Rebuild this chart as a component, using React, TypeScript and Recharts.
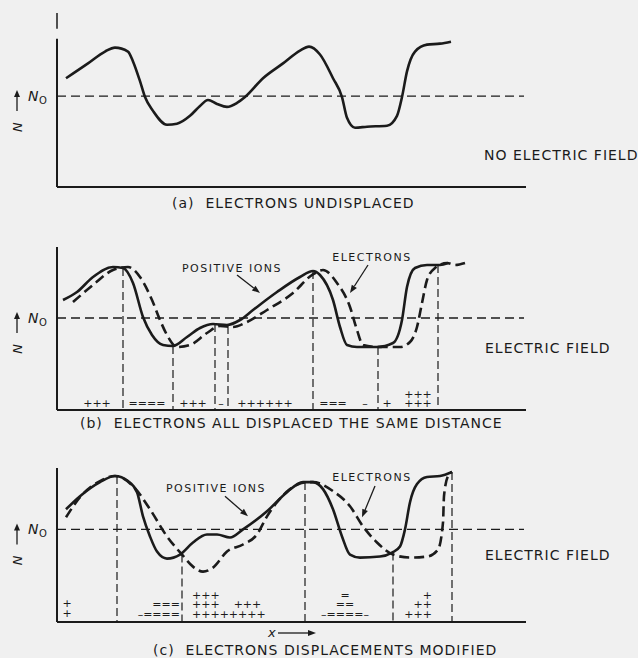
import React from "react";
import { LineChart, Line, XAxis, YAxis, ReferenceLine, ReferenceDot } from "recharts";

const INK = "#1b1b1b";
const BG = "#f0f0f0";
const N0 = 92;
const X_MAX = 469;

type Pt = { x: number; n: number };
type Drop = { x: number; top: number };
// n is the centre of the lowest row; rows run top to bottom
type Charge = { x: number; n: number; rows: string[]; anchor?: "start" | "middle" | "end" };
type Note = { x: number; n: number; t: string; from: [number, number]; to: [number, number] };

// (a) electrons undisplaced
const ionsA: Pt[] = [
  { x: 9, n: 110 }, { x: 31, n: 125 }, { x: 48, n: 137 }, { x: 58, n: 141 }, { x: 71, n: 137 },
  { x: 76, n: 127 }, { x: 83, n: 107 }, { x: 88, n: 91 }, { x: 96, n: 77 }, { x: 110, n: 63 },
  { x: 120, n: 64 }, { x: 133, n: 72 }, { x: 143, n: 82 }, { x: 151, n: 88 }, { x: 160, n: 84 },
  { x: 170, n: 81 }, { x: 180, n: 85 }, { x: 188, n: 91 }, { x: 206, n: 110 }, { x: 226, n: 125 },
  { x: 243, n: 138 }, { x: 252, n: 142 }, { x: 263, n: 134 }, { x: 276, n: 110 }, { x: 285, n: 91 },
  { x: 290, n: 70 }, { x: 298, n: 60 }, { x: 310, n: 61 }, { x: 330, n: 62 }, { x: 340, n: 72 },
  { x: 345, n: 91 }, { x: 350, n: 117 }, { x: 358, n: 137 }, { x: 370, n: 144 }, { x: 383, n: 145 },
  { x: 394, n: 147 },
];

// (b) all displaced the same distance
const ionsB: Pt[] = [
  { x: 6, n: 110 }, { x: 20, n: 118 }, { x: 36, n: 133 }, { x: 56, n: 143 }, { x: 66, n: 142 },
  { x: 76, n: 127 }, { x: 86, n: 93 }, { x: 95, n: 75 }, { x: 106, n: 65 }, { x: 116, n: 64 },
  { x: 130, n: 73 }, { x: 143, n: 82 }, { x: 156, n: 86 }, { x: 170, n: 85 }, { x: 183, n: 90 },
  { x: 196, n: 100 }, { x: 220, n: 118 }, { x: 243, n: 133 }, { x: 256, n: 139 }, { x: 263, n: 135 },
  { x: 276, n: 110 }, { x: 283, n: 83 }, { x: 290, n: 65 }, { x: 300, n: 63 }, { x: 320, n: 63 },
  { x: 336, n: 67 }, { x: 345, n: 90 }, { x: 350, n: 123 }, { x: 358, n: 142 }, { x: 370, n: 145 },
  { x: 383, n: 145 }, { x: 391, n: 147 },
];
const electronsB: Pt[] = [
  { x: 16, n: 108 }, { x: 36, n: 125 }, { x: 56, n: 140 }, { x: 71, n: 143 }, { x: 83, n: 133 },
  { x: 95, n: 110 }, { x: 103, n: 90 }, { x: 110, n: 75 }, { x: 120, n: 63 }, { x: 133, n: 65 },
  { x: 150, n: 77 }, { x: 163, n: 84 }, { x: 176, n: 83 }, { x: 190, n: 88 }, { x: 210, n: 100 },
  { x: 236, n: 117 }, { x: 255, n: 135 }, { x: 266, n: 140 }, { x: 280, n: 127 }, { x: 293, n: 103 },
  { x: 300, n: 80 }, { x: 306, n: 65 }, { x: 320, n: 63 }, { x: 343, n: 63 }, { x: 353, n: 68 },
  { x: 360, n: 83 }, { x: 365, n: 107 }, { x: 370, n: 130 }, { x: 378, n: 142 }, { x: 390, n: 147 },
  { x: 398, n: 145 }, { x: 408, n: 147 },
];
const dropsB: Drop[] = [
  { x: 66, top: 142 }, { x: 116, top: 64 }, { x: 158, top: 86 }, { x: 171, top: 84 },
  { x: 256, top: 139 }, { x: 321, top: 63 }, { x: 381, top: 145 },
];
const chargesB: Charge[] = [
  { x: 40, n: 7, rows: ["+++"] }, { x: 90, n: 7, rows: ["===="] }, { x: 136, n: 7, rows: ["+++"] },
  { x: 164, n: 7, rows: ["–"] }, { x: 208, n: 7, rows: ["++++++"] }, { x: 276, n: 7, rows: ["==="] },
  { x: 308, n: 7, rows: ["–"] }, { x: 330, n: 7, rows: ["+"] }, { x: 361, n: 7, rows: ["+++", "+++"] },
];
const notesB: Note[] = [
  { x: 175, n: 142, t: "POSITIVE IONS", from: [180, 135], to: [203, 117] },
  { x: 315, n: 153, t: "ELECTRONS", from: [311, 145], to: [293, 117] },
];

// (c) displacements modified
const ionsC: Pt[] = [
  { x: 9, n: 112 }, { x: 23, n: 125 }, { x: 43, n: 139 }, { x: 58, n: 145 }, { x: 71, n: 140 },
  { x: 80, n: 129 }, { x: 86, n: 105 }, { x: 93, n: 85 }, { x: 100, n: 70 }, { x: 110, n: 63 },
  { x: 123, n: 67 }, { x: 136, n: 79 }, { x: 150, n: 87 }, { x: 160, n: 87 }, { x: 173, n: 84 },
  { x: 186, n: 92 }, { x: 210, n: 110 }, { x: 230, n: 129 }, { x: 246, n: 139 }, { x: 256, n: 139 },
  { x: 266, n: 132 }, { x: 276, n: 112 }, { x: 285, n: 85 }, { x: 293, n: 67 }, { x: 303, n: 64 },
  { x: 323, n: 65 }, { x: 335, n: 69 }, { x: 343, n: 75 }, { x: 348, n: 92 }, { x: 353, n: 119 },
  { x: 360, n: 137 }, { x: 370, n: 144 }, { x: 383, n: 145 }, { x: 395, n: 149 },
];
const electronsC: Pt[] = [
  { x: 9, n: 104 }, { x: 23, n: 124 }, { x: 43, n: 140 }, { x: 58, n: 145 }, { x: 76, n: 135 },
  { x: 93, n: 112 }, { x: 110, n: 85 }, { x: 125, n: 67 }, { x: 136, n: 55 }, { x: 146, n: 50 },
  { x: 156, n: 54 }, { x: 170, n: 70 }, { x: 186, n: 77 }, { x: 200, n: 87 }, { x: 210, n: 105 },
  { x: 220, n: 119 }, { x: 233, n: 132 }, { x: 250, n: 139 }, { x: 256, n: 139 }, { x: 276, n: 130 },
  { x: 293, n: 115 }, { x: 306, n: 95 }, { x: 320, n: 79 }, { x: 336, n: 67 }, { x: 353, n: 64 },
  { x: 370, n: 65 }, { x: 381, n: 72 }, { x: 386, n: 99 }, { x: 387, n: 125 }, { x: 391, n: 145 },
  { x: 395, n: 149 },
];
const dropsC: Drop[] = [
  { x: 60, top: 145 }, { x: 125, top: 67 }, { x: 248, top: 139 }, { x: 336, top: 69 }, { x: 395, top: 149 },
];
const chargesC: Charge[] = [
  { x: 10, n: 9, rows: ["+", "+"] },
  { x: 123, n: 8, rows: ["===", "–===="], anchor: "end" },
  { x: 135, n: 8, rows: ["+++", "+++    +++", "++++++++"], anchor: "start" },
  { x: 288, n: 8, rows: ["=", "==", "–====–"] },
  { x: 375, n: 8, rows: ["+", "++", "+++"], anchor: "end" },
];
const notesC: Note[] = [
  { x: 159, n: 133, t: "POSITIVE IONS", from: [168, 125], to: [191, 105] },
  { x: 315, n: 144, t: "ELECTRONS", from: [318, 135], to: [305, 104] },
];

const arrowShape = (p: any) => {
  const { x1, y1, x2, y2 } = p;
  const a = Math.atan2(y2 - y1, x2 - x1);
  const len = 8;
  const half = 3;
  const bx = x2 - len * Math.cos(a);
  const by = y2 - len * Math.sin(a);
  const pts = `${x2},${y2} ${bx + half * Math.sin(a)},${by - half * Math.cos(a)} ${bx - half * Math.sin(a)},${by + half * Math.cos(a)}`;
  return (
    <g>
      <line x1={x1} y1={y1} x2={bx} y2={by} stroke={INK} strokeWidth={1.3} />
      <polygon points={pts} fill={INK} />
    </g>
  );
};

const N0Label = (p: any) => {
  const vb = p.viewBox || {};
  const x = vb.x;
  const y = vb.y;
  if (x == null || y == null) return null;
  return (
    <g fill={INK} stroke="none">
      <text x={x - 29} y={y + 5} fontSize={14} fontStyle="italic">N</text>
      <text x={x - 18} y={y + 8} fontSize={10}>O</text>
      <line x1={x - 40} y1={y + 15} x2={x - 40} y2={y - 1} stroke={INK} strokeWidth={1.3} />
      <polygon points={`${x - 40},${y - 6} ${x - 43},${y + 1} ${x - 37},${y + 1}`} />
      <text transform={`translate(${x - 35}, ${y + 31}) rotate(-90)`} fontSize={13} fontStyle="italic" textAnchor="middle">
        N
      </text>
    </g>
  );
};

const textAt = (t: string, size: number, spacing: number) => (p: any) => {
  const vb = p.viewBox || {};
  return (
    <text x={vb.x + (vb.width || 0) / 2} y={vb.y + (vb.height || 0) / 2} textAnchor="middle" dominantBaseline="central"
      fontSize={size} letterSpacing={spacing} fill={INK}>
      {t}
    </text>
  );
};

const ROW = 9.5;
const stackAt = (c: Charge) => (p: any) => {
  const vb = p.viewBox || {};
  const x = vb.x + (vb.width || 0) / 2;
  const y = vb.y + (vb.height || 0) / 2;
  const last = c.rows.length - 1;
  return (
    <text textAnchor={c.anchor || "middle"} fontSize={11} fill={INK}>
      {c.rows.map((r, i) => (
        <tspan key={i} x={x} y={y + 4 - (last - i) * ROW} style={{ whiteSpace: "pre" }}>
          {r}
        </tspan>
      ))}
    </text>
  );
};

type PanelProps = {
  top: number;
  height: number;
  margin: { top: number; right: number; bottom: number; left: number };
  yMax: number;
  axisTop: number;
  ions: Pt[];
  electrons?: Pt[];
  drops?: Drop[];
  charges?: Charge[];
  notes?: Note[];
  mark?: [number, number];
};

function Panel({ top, height, margin, yMax, axisTop, ions, electrons, drops = [], charges = [], notes = [], mark }: PanelProps) {
  return (
    <div style={{ position: "absolute", left: 0, top }}>
      <LineChart width={638} height={height} margin={margin}>
        <XAxis type="number" dataKey="x" domain={[0, X_MAX]} allowDataOverflow hide />
        <YAxis type="number" dataKey="n" domain={[0, yMax]} allowDataOverflow hide />
        <ReferenceLine segment={[{ x: 0, y: 0 }, { x: 0, y: axisTop }]} stroke={INK} strokeWidth={2} />
        <ReferenceLine segment={[{ x: 0, y: 0 }, { x: X_MAX, y: 0 }]} stroke={INK} strokeWidth={2} />
        {mark && <ReferenceLine segment={[{ x: 0, y: mark[0] }, { x: 0, y: mark[1] }]} stroke={INK} strokeWidth={1.5} />}
        <ReferenceLine
          segment={[{ x: 0, y: N0 }, { x: 467, y: N0 }]}
          stroke={INK}
          strokeWidth={1.3}
          strokeDasharray="9 5"
          label={<N0Label />}
        />
        {drops.map((d, i) => (
          <ReferenceLine key={`d${i}`} segment={[{ x: d.x, y: d.top }, { x: d.x, y: 0 }]} stroke={INK} strokeWidth={1.2} strokeDasharray="8 4" />
        ))}
        <Line data={ions} dataKey="n" type="monotone" stroke={INK} strokeWidth={2.6} dot={false} isAnimationActive={false} />
        {electrons && (
          <Line data={electrons} dataKey="n" type="monotone" stroke={INK} strokeWidth={2.6} strokeDasharray="10 5" dot={false} isAnimationActive={false} />
        )}
        {charges.map((c, i) => (
          <ReferenceDot key={`c${i}`} x={c.x} y={c.n} r={0} fill="none" stroke="none" label={{ content: stackAt(c) }} />
        ))}
        {notes.map((nt, i) => (
          <ReferenceLine key={`a${i}`} segment={[{ x: nt.from[0], y: nt.from[1] }, { x: nt.to[0], y: nt.to[1] }]} shape={arrowShape} />
        ))}
        {notes.map((nt, i) => (
          <ReferenceDot key={`t${i}`} x={nt.x} y={nt.n} r={0} fill="none" stroke="none" label={{ content: textAt(nt.t, 11, 1.5) }} />
        ))}
      </LineChart>
    </div>
  );
}

const label = (text: string, left: number, top: number, extra: React.CSSProperties = {}) => (
  <div style={{ position: "absolute", left, top, fontSize: 14, lineHeight: "16px", letterSpacing: 1, whiteSpace: "pre", color: INK, ...extra }}>
    {text}
  </div>
);

export default function App() {
  return (
    <div style={{ position: "absolute", left: 0, top: 0, width: 638, height: 658, background: BG, fontFamily: "'DejaVu Sans', sans-serif", overflow: "hidden" }}>
      <Panel top={0} height={200} margin={{ top: 12, right: 112, bottom: 13, left: 57 }} yMax={177} axisTop={150} ions={ionsA} mark={[160, 176]} />
      <Panel top={200} height={220} margin={{ top: 47, right: 112, bottom: 10, left: 57 }} yMax={163} axisTop={163}
        ions={ionsB} electrons={electronsB} drops={dropsB} charges={chargesB} notes={notesB} />
      <Panel top={440} height={218} margin={{ top: 28, right: 112, bottom: 36, left: 57 }} yMax={153} axisTop={153}
        ions={ionsC} electrons={electronsC} drops={dropsC} charges={chargesC} notes={notesC} />

      {label("NO ELECTRIC FIELD", 484, 147)}
      {label("(a)  ELECTRONS UNDISPLACED", 172, 195)}
      {label("ELECTRIC FIELD", 485, 340)}
      {label("(b)  ELECTRONS ALL DISPLACED THE SAME DISTANCE", 80, 415)}
      {label("ELECTRIC FIELD", 485, 547)}
      {label("(c)  ELECTRONS DISPLACEMENTS MODIFIED", 153, 642)}
      <div style={{ position: "absolute", left: 268, top: 625, fontSize: 13, lineHeight: "16px", color: INK, display: "flex", alignItems: "center" }}>
        <i>x</i>
        <svg width={38} height={10} style={{ marginLeft: 2 }}>
          <line x1={0} y1={5} x2={31} y2={5} stroke={INK} strokeWidth={1.3} />
          <polygon points="38,5 30,2 30,8" fill={INK} />
        </svg>
      </div>
    </div>
  );
}
